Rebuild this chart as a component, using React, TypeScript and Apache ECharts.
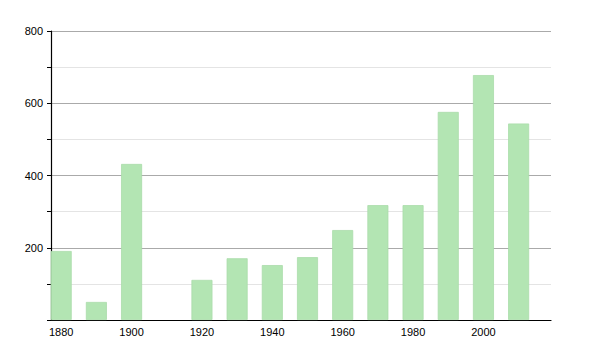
import React, { useEffect, useRef } from "react";
import * as echarts from "echarts";

const years = [1880, 1890, 1900, 1920, 1930, 1940, 1950, 1960, 1970, 1980, 1990, 2000, 2010];
const values = [191, 50, 432, 111, 171, 152, 174, 249, 318, 318, 576, 678, 544];
const xLabels = [1880, 1900, 1920, 1940, 1960, 1980, 2000];
const yLabels = [200, 400, 600, 800];

export default function App() {
  const ref = useRef<HTMLDivElement>(null);
  useEffect(() => {
    if (!ref.current) return;
    const chart = echarts.init(ref.current, null, { renderer: "svg" });
    chart.setOption({
      animation: false,
      grid: { left: 51, right: 49, top: 31, bottom: 30 },
      xAxis: {
        type: "value",
        min: 1877.1,
        max: 2019.2,
        axisLine: { show: true, onZero: false, lineStyle: { color: "#000", width: 1.2 } },
        axisTick: { show: false },
        splitLine: { show: false },
        axisLabel: {
          customValues: xLabels,
          color: "#000",
          fontSize: 11,
          fontFamily: "Liberation Sans, Arial, sans-serif",
          margin: 6,
          formatter: (v: number) => String(v),
        },
      },
      yAxis: {
        type: "value",
        min: 0,
        max: 800,
        interval: 100,
        axisLine: { show: true, lineStyle: { color: "#000", width: 1.2 } },
        axisTick: { show: true, length: 4, lineStyle: { color: "#000" } },
        splitLine: { show: true, lineStyle: { color: ["#aaaaaa", "#e4e4e4"], width: 1 } },
        axisLabel: {
          color: "#000",
          fontSize: 11,
          fontFamily: "Liberation Sans, Arial, sans-serif",
          margin: 8,
          formatter: (v: number) => (yLabels.includes(v) ? String(v) : ""),
        },
      },
      series: [
        {
          type: "bar",
          data: years.map((y, i) => [y, values[i]]),
          barWidth: 21,
          itemStyle: { color: "#b3e5b3", borderColor: "#a9dca9", borderWidth: 0.8 },
        },
      ],
    });
    return () => chart.dispose();
  }, []);
  return <div ref={ref} style={{ width: 600, height: 350, position: "absolute", left: 0, top: 0 }} />;
}
